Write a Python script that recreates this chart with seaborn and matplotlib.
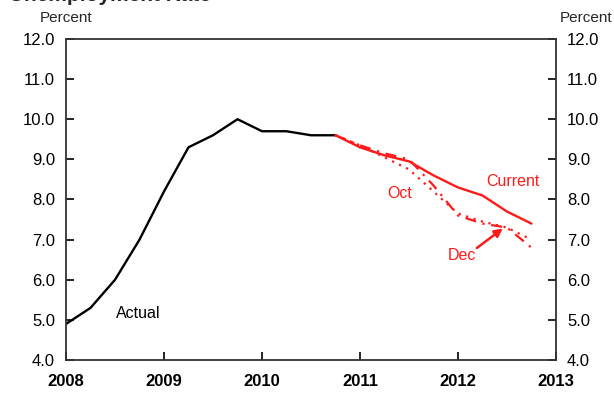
import numpy as np
import pandas as pd
import matplotlib
matplotlib.use('Agg')
import matplotlib.pyplot as plt
import seaborn as sns

# ── Dados (trimestrais) ──────────────────────────────────────────────────────
actual_x = [2008.0, 2008.25, 2008.5, 2008.75, 2009.0, 2009.25, 2009.5, 2009.75,
            2010.0, 2010.25, 2010.5, 2010.75]
actual_y = [4.9, 5.3, 6.0, 7.0, 8.2, 9.3, 9.6, 10.0, 9.7, 9.7, 9.6, 9.6]

fcst_x = [2010.75, 2011.0, 2011.25, 2011.5, 2011.75, 2012.0, 2012.25, 2012.5, 2012.75]
current_y = [9.6, 9.3, 9.1, 8.95, 8.6, 8.3, 8.1, 7.7, 7.4]
oct_y = [9.6, 9.35, 9.05, 8.75, 8.2, 7.65, 7.45, 7.3, 7.0]
dec_y = [9.6, 9.35, 9.15, 9.0, 8.35, 7.6, 7.4, 7.3, 6.8]

y_ticks = [4.0, 5.0, 6.0, 7.0, 8.0, 9.0, 10.0, 11.0, 12.0]
x_ticks = [2008, 2009, 2010, 2011, 2012, 2013]

RED = '#ff1a1a'

sns.set_style('white')
plt.rcParams['font.family'] = ['Liberation Sans', 'DejaVu Sans']

fig = plt.figure(figsize=(6.14, 3.97), dpi=100)
ax = fig.add_axes([0.1075, 0.093, 0.798, 0.809])

sns.lineplot(x=actual_x, y=actual_y, ax=ax, color='black', linewidth=1.7)
sns.lineplot(x=fcst_x, y=oct_y, ax=ax, color=RED, linewidth=1.6, linestyle=(0, (1, 2.5)))
sns.lineplot(x=fcst_x, y=dec_y, ax=ax, color=RED, linewidth=1.6, linestyle=(0, (5, 3, 1, 3)))
sns.lineplot(x=fcst_x, y=current_y, ax=ax, color=RED, linewidth=1.7)

ax.set_xlim(2008, 2013)
ax.set_ylim(4, 12)
ax.set_xticks(x_ticks)
ax.set_xticklabels([str(t) for t in x_ticks], fontsize=12, fontweight='bold')
ax.set_yticks(y_ticks)
ax.set_yticklabels([f'{t:.1f}' for t in y_ticks], fontsize=12)
ax.tick_params(axis='both', direction='in', length=6, width=1.2, colors='black',
               labelcolor='black', right=True, labelright=True, left=True, bottom=True)
ax.tick_params(axis='x', pad=10)
ax.tick_params(axis='y', pad=8)
for s in ax.spines.values():
    s.set_color('#333333')
    s.set_linewidth(1.3)

# ── Rótulos ──────────────────────────────────────────────────────────────────
ax.text(2008.51, 5.15, 'Actual', fontsize=11.5, color='black', va='center')
ax.text(2011.28, 8.15, 'Oct', fontsize=11.5, color=RED, va='center')
ax.text(2012.29, 8.45, 'Current', fontsize=11.5, color=RED, va='center')
ax.text(2011.9, 6.6, 'Dec', fontsize=11.5, color=RED, va='center')
ax.annotate('', xy=(2012.48, 7.32), xytext=(2012.17, 6.75),
            arrowprops=dict(arrowstyle='-|>', color=RED, lw=1.8, mutation_scale=12))

fig.text(0.065, 0.955, 'Percent', fontsize=11, ha='left', va='center')
fig.text(0.998, 0.955, 'Percent', fontsize=11, ha='right', va='center')
fig.text(0.015, 1.012, 'Unemployment Rate', fontsize=15, fontweight='bold',
         ha='left', va='center')

fig.savefig('out.png', dpi=100)
